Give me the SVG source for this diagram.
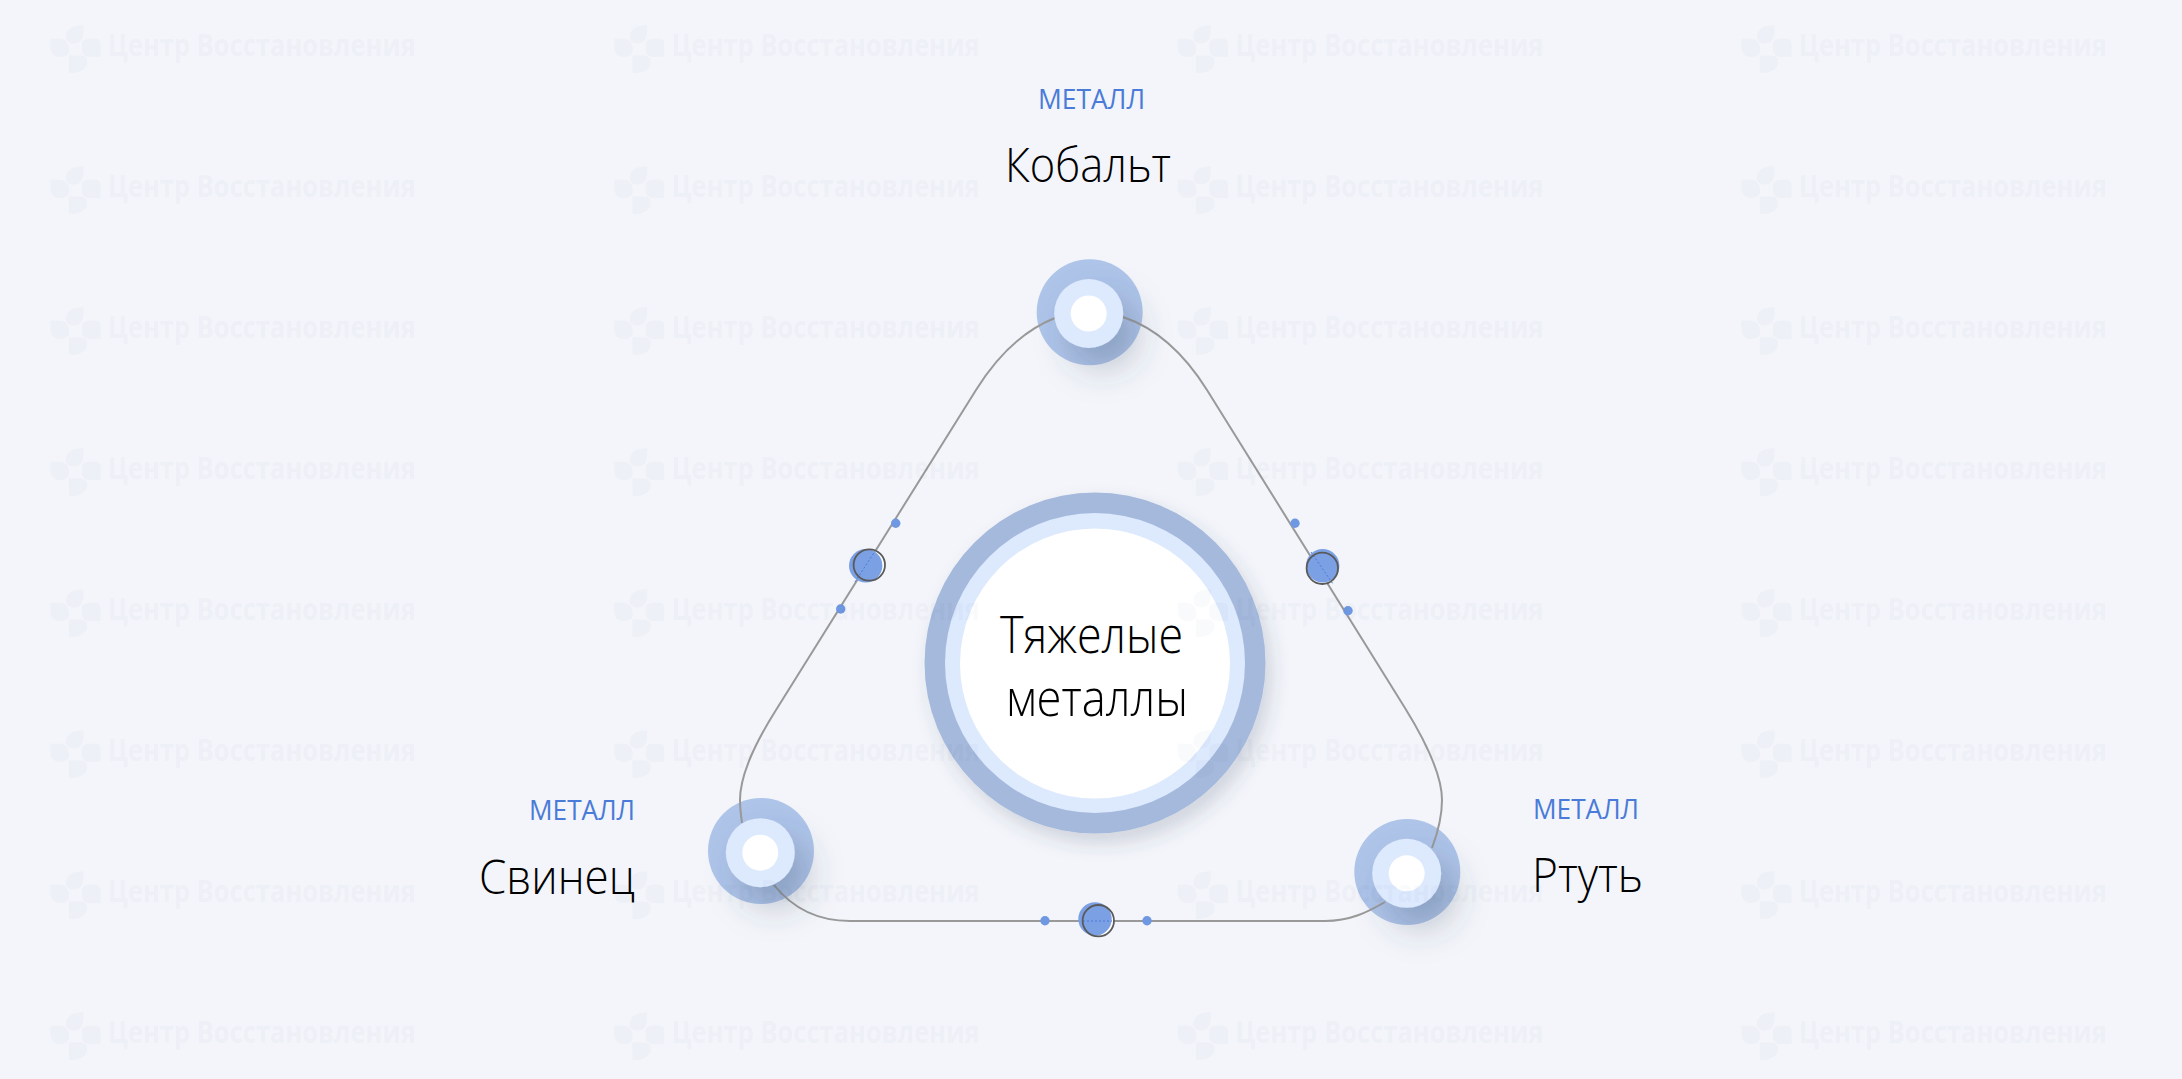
<svg xmlns="http://www.w3.org/2000/svg" xmlns:xlink="http://www.w3.org/1999/xlink" width="2182" height="1079" viewBox="0 0 2182 1079">
<style>
.lab{font-family:"Open Sans","Noto Sans","Liberation Sans",sans-serif;font-size:27.500px;fill:#4a7bd8}
.name{font-family:"Open Sans","Noto Sans","Liberation Sans",sans-serif;font-weight:300;font-size:47px;fill:#000}
.title{font-family:"Open Sans","Noto Sans","Liberation Sans",sans-serif;font-weight:300;font-size:51px;fill:#000}
.wm{font-family:"Open Sans","Noto Sans","Liberation Sans",sans-serif;font-weight:700;font-size:31px}
.out{fill:#aec4e9}.mid{fill:#dde9fd}.core{fill:#fff}
.big{fill:#7ba0e4}.halo{fill:#fff}.ring{fill:none;stroke:#5a5a5a;stroke-width:1.800}.dot{fill:#6f98e2}
#link{fill:none;stroke:#999;stroke-width:2}
#beads path{fill:none;stroke:#4a7bd8;stroke-width:1;stroke-dasharray:2 2}
</style>
<defs>
<filter id="s1" x="-100%" y="-100%" width="320%" height="320%"><feDropShadow dx="14" dy="20" stdDeviation="17" flood-color="#3a4660" flood-opacity=".29"/></filter>
<filter id="s2" x="-20%" y="-20%" width="140%" height="140%"><feDropShadow dx="6" dy="10" stdDeviation="9" flood-color="#3a4660" flood-opacity=".19"/></filter>
<g id="logo">
<path d="M66,37C66,29 73,25.300 83.500,25.300C83.500,35 83,43.500 74,43.500C69,43.500 66,41 66,37Z"/>
<path d="M50.500,38.800H60C66,38.800 69,44 69,50C69,54 66,57 60,57C54,57 50.500,53 50.500,47Z"/>
<path d="M82,44C82,41 85,38.800 90,38.800H96C99,38.800 100.500,41 100.500,44V57H90C85,57 82,54 82,50Z"/>
<path d="M68.800,55.500H80C84,55.500 87,57.500 87,62C87,68 82,73 70,73C69,73 68.800,72 68.800,70Z"/>
</g>
<g id="mark">
<use xlink:href="#logo" href="#logo"/>
<text class="wm" x="108" y="56" textLength="308" lengthAdjust="spacingAndGlyphs">Центр Восстановления</text>
</g>
</defs>
<rect width="2182" height="1079" fill="#f3f5fa"/>

<g id="node-cobalt-ring"><circle class="out" cx="1089.700" cy="312.300" r="53"/></g>
<g id="node-lead-ring"><circle class="out" cx="761" cy="851" r="53"/></g>
<g id="node-mercury-ring"><circle class="out" cx="1407.300" cy="872" r="53"/></g>

<g id="connectors">
<path id="link" d="M1055,318C1022,331 996,358 976,390L776,710C764,729 740,770 740,800C740,808 741,816 742,823M774,885C790,905 815,921 850,921H1325C1350,921 1368,912 1385,902M1432,848C1438,832 1442,816 1442,800C1442,770 1418,729 1405,708L1207,390C1192,366 1165,331 1123,317"/>
</g>

<g id="beads">
<circle class="halo" cx="869.300" cy="565" r="15.700"/>
<circle class="big" cx="865.700" cy="565.700" r="16.700"/>
<path d="M855,582L877,548"/>
<circle class="ring" cx="869.300" cy="565" r="15.700"/>
<circle class="dot" cx="895.700" cy="523.300" r="4.700"/>
<circle class="dot" cx="840.700" cy="609" r="4.700"/>
<circle class="halo" cx="1322.300" cy="568.300" r="15.700"/>
<circle class="big" cx="1322.700" cy="565.700" r="16.700"/>
<path d="M1311,552L1333,584"/>
<circle class="ring" cx="1322.300" cy="568.300" r="15.700"/>
<circle class="dot" cx="1295" cy="523.300" r="4.700"/>
<circle class="dot" cx="1348" cy="610.700" r="4.700"/>
<circle class="halo" cx="1098.300" cy="920.700" r="15.700"/>
<circle class="big" cx="1095" cy="919" r="16.700"/>
<path d="M1083,921H1112"/>
<circle class="ring" cx="1098.300" cy="920.700" r="15.700"/>
<circle class="dot" cx="1045" cy="920.700" r="4.700"/>
<circle class="dot" cx="1147" cy="920.700" r="4.700"/>
</g>

<g id="node-center">
<circle cx="1095" cy="663" r="170.500" fill="#a4b9dc" filter="url(#s2)"/>
<circle class="mid" cx="1095" cy="663" r="150"/>
<circle class="core" cx="1095" cy="663.500" r="135"/>
<text class="title" x="1000" y="653" textLength="183" lengthAdjust="spacingAndGlyphs">Тяжелые</text>
<text class="title" x="1006" y="716" textLength="182" lengthAdjust="spacingAndGlyphs">металлы</text>
</g>

<g id="node-cobalt">
<circle class="mid" cx="1088.700" cy="313.500" r="34.500" filter="url(#s1)"/>
<circle class="core" cx="1088.700" cy="313.500" r="18"/>
<text class="lab" x="1038" y="109" textLength="107" lengthAdjust="spacingAndGlyphs">МЕТАЛЛ</text>
<text class="name" x="1005" y="182" textLength="166" lengthAdjust="spacingAndGlyphs">Кобальт</text>
</g>
<g id="node-lead">
<circle class="mid" cx="760.300" cy="852.700" r="34.500" filter="url(#s1)"/>
<circle class="core" cx="760.300" cy="852.700" r="18"/>
<text class="lab" x="529" y="820" textLength="106" lengthAdjust="spacingAndGlyphs">МЕТАЛЛ</text>
<text class="name" x="479" y="894" textLength="156" lengthAdjust="spacingAndGlyphs">Свинец</text>
</g>
<g id="node-mercury">
<circle class="mid" cx="1406.700" cy="873.300" r="34.500" filter="url(#s1)"/>
<circle class="core" cx="1406.700" cy="873.300" r="18"/>
<text class="lab" x="1533" y="819.300" textLength="106" lengthAdjust="spacingAndGlyphs">МЕТАЛЛ</text>
<text class="name" x="1532" y="891.700" textLength="111" lengthAdjust="spacingAndGlyphs">Ртуть</text>
</g>

<g id="watermark" fill="#3a4a70" opacity=".03">
<use href="#mark" x="0" y="0"/><use href="#mark" x="563.700" y="0"/><use href="#mark" x="1127.400" y="0"/><use href="#mark" x="1691" y="0"/>
<use href="#mark" x="0" y="141"/><use href="#mark" x="563.700" y="141"/><use href="#mark" x="1127.400" y="141"/><use href="#mark" x="1691" y="141"/>
<use href="#mark" x="0" y="282"/><use href="#mark" x="563.700" y="282"/><use href="#mark" x="1127.400" y="282"/><use href="#mark" x="1691" y="282"/>
<use href="#mark" x="0" y="423"/><use href="#mark" x="563.700" y="423"/><use href="#mark" x="1127.400" y="423"/><use href="#mark" x="1691" y="423"/>
<use href="#mark" x="0" y="564"/><use href="#mark" x="563.700" y="564"/><use href="#mark" x="1127.400" y="564"/><use href="#mark" x="1691" y="564"/>
<use href="#mark" x="0" y="705"/><use href="#mark" x="563.700" y="705"/><use href="#mark" x="1127.400" y="705"/><use href="#mark" x="1691" y="705"/>
<use href="#mark" x="0" y="846"/><use href="#mark" x="563.700" y="846"/><use href="#mark" x="1127.400" y="846"/><use href="#mark" x="1691" y="846"/>
<use href="#mark" x="0" y="987"/><use href="#mark" x="563.700" y="987"/><use href="#mark" x="1127.400" y="987"/><use href="#mark" x="1691" y="987"/>
</g>
</svg>
